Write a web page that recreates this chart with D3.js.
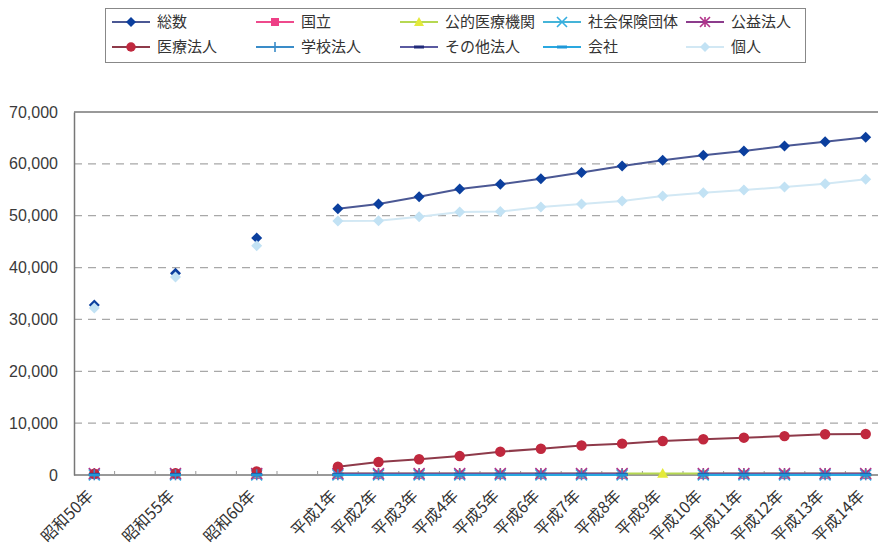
<!DOCTYPE html>
<html>
<head>
<meta charset="utf-8">
<script src="https://cdn.jsdelivr.net/npm/d3@7"></script>
<style>
  body { margin: 0; background: #fff; }
  svg { display: block; font-family: "Noto Sans CJK JP", "Noto Sans", sans-serif; }
</style>
</head>
<body>
<div id="chart"></div>
<script>
// categories (blank slots between the 昭和 years)
const labels = ['昭和50年', '', '昭和55年', '', '昭和60年', '',
  '平成1年', '平成2年', '平成3年', '平成4年', '平成5年', '平成6年', '平成7年',
  '平成8年', '平成9年', '平成10年', '平成11年', '平成12年', '平成13年', '平成14年'];

const yTicks = [0, 10000, 20000, 30000, 40000, 50000, 60000, 70000];

const N = null;
const sousu    = [32800, N, 38900, N, 45700, N, 51350, 52250, 53650, 55150, 56050, 57150, 58350, 59600, 60700, 61650, 62500, 63450, 64250, 65150];
const kojin    = [32200, N, 38200, N, 44200, N, 49000, 49050, 49800, 50700, 50800, 51700, 52250, 52850, 53800, 54450, 54950, 55550, 56150, 57050];
const iryo     = [250, N, 350, N, 700, N, 1600, 2500, 3050, 3650, 4500, 5050, 5700, 6050, 6550, 6900, 7200, 7500, 7850, 7900];
const kokuritsu = [60, N, 60, N, 60, N, 60, 60, 60, 60, 60, 60, 60, 60, N, 60, 60, 60, 60, 60];
const koteki   = [300, N, 300, N, 300, N, 300, 300, 300, 300, 300, 300, 300, 300, 300, 300, 300, 300, 300, 300];
const shaho    = [30, N, 30, N, 30, N, 30, 30, 30, 30, 30, 30, 30, 30, N, 30, 30, 30, 30, 30];
const koeki    = [280, N, 280, N, 280, N, 280, 280, 280, 280, 280, 280, 280, 280, N, 280, 280, 280, 280, 280];
const gakko    = [40, N, 40, N, 40, N, 40, 40, 40, 40, 40, 40, 40, 40, N, 40, 40, 40, 40, 40];
const sonota   = [120, N, 120, N, 120, N, 120, 120, 120, 120, 120, 120, 120, 120, N, 120, 120, 120, 120, 120];
const kaisha   = [10, N, 10, N, 10, N, 10, 10, 10, 10, 10, 10, 10, 10, N, 10, 10, 10, 10, 10];

const series = [
  { name: '総数', values: sousu, line: '#4b5894', fill: '#0b3f9e', marker: 'diamond' },
  { name: '国立', values: kokuritsu, line: '#ee4a8c', fill: '#ee3f86', marker: 'square' },
  { name: '公的医療機関', values: koteki, line: '#b6d852', fill: '#e4ea3a', marker: 'triangle' },
  { name: '社会保険団体', values: shaho, line: '#45b4d8', fill: '#36aee0', marker: 'x' },
  { name: '公益法人', values: koeki, line: '#8c3c8c', fill: '#b2338a', marker: 'star' },
  { name: '医療法人', values: iryo, line: '#8e3a4a', fill: '#c0283e', marker: 'circle' },
  { name: '学校法人', values: gakko, line: '#3a8cc8', fill: '#3a8cc8', marker: 'plus' },
  { name: 'その他法人', values: sonota, line: '#5a5aa0', fill: '#202a7a', marker: 'dash' },
  { name: '会社', values: kaisha, line: '#2aa8e0', fill: '#1f98d8', marker: 'dash' },
  { name: '個人', values: kojin, line: '#d2e8f4', fill: '#c2e2f4', marker: 'diamond' }
];

const width = 878, height = 549;
const svg = d3.select('#chart').append('svg')
  .attr('width', width)
  .attr('height', height);

const x = d3.scaleBand()
  .domain(d3.range(labels.length))
  .range([74, 74 + 40.6 * labels.length]);

const y = d3.scaleLinear()
  .domain([0, 70000])
  .range([475, 112]);

// grid
svg.append('g')
  .selectAll('line')
  .data(yTicks.filter(t => t > 0 && t < 70000))
  .join('line')
  .attr('x1', 74).attr('x2', width)
  .attr('y1', d => y(d)).attr('y2', d => y(d))
  .attr('stroke', '#a8a8a8')
  .attr('stroke-width', 1.2)
  .attr('stroke-dasharray', '8,6');

// top border
svg.append('line')
  .attr('x1', 74).attr('x2', width)
  .attr('y1', y(70000)).attr('y2', y(70000))
  .attr('stroke', '#777').attr('stroke-width', 1.5);

// y axis
const yAxis = d3.axisLeft(y)
  .tickValues(yTicks)
  .tickSize(0)
  .tickPadding(16)
  .tickFormat(d3.format(','));
const yg = svg.append('g')
  .attr('transform', 'translate(74,0)')
  .call(yAxis);
yg.select('.domain').attr('stroke', '#777').attr('stroke-width', 1.5);
yg.selectAll('text').attr('font-size', 16).attr('fill', '#3a3a3a');

// x axis
const xg = svg.append('g')
  .attr('transform', 'translate(0,475)');
xg.append('line')
  .attr('x1', 74).attr('x2', width)
  .attr('stroke', '#777').attr('stroke-width', 1.5);
xg.selectAll('.tk')
  .data(d3.range(1, labels.length))
  .join('line')
  .attr('class', 'tk')
  .attr('x1', d => x(d)).attr('x2', d => x(d))
  .attr('y1', 0).attr('y2', -4)
  .attr('stroke', '#999');
xg.selectAll('text')
  .data(labels.map((l, i) => ({ l, i })).filter(d => d.l))
  .join('text')
  .attr('transform', d => `translate(${x(d.i) + x.bandwidth() / 2 - 4},18) rotate(-45)`)
  .attr('text-anchor', 'end')
  .attr('dy', '0.35em')
  .attr('font-size', 16)
  .attr('fill', '#333')
  .text(d => d.l);

// markers
function drawMarker(g, type, fill, size) {
  const s = size;
  if (type === 'diamond') {
    g.append('path').attr('d', `M0,${-s}L${s},0L0,${s}L${-s},0Z`).attr('fill', fill);
  } else if (type === 'square') {
    g.append('rect').attr('x', -s * 0.8).attr('y', -s * 0.8).attr('width', s * 1.6).attr('height', s * 1.6).attr('fill', fill);
  } else if (type === 'triangle') {
    g.append('path').attr('d', `M0,${-s}L${s},${s * 0.8}L${-s},${s * 0.8}Z`).attr('fill', fill);
  } else if (type === 'circle') {
    g.append('circle').attr('r', s * 0.95).attr('fill', fill);
  } else if (type === 'x') {
    g.append('path').attr('d', `M${-s},${-s}L${s},${s}M${-s},${s}L${s},${-s}`).attr('stroke', fill).attr('stroke-width', 1.6);
  } else if (type === 'star') {
    g.append('path').attr('d', `M${-s},${-s}L${s},${s}M${-s},${s}L${s},${-s}M0,${-s}L0,${s}`).attr('stroke', fill).attr('stroke-width', 1.6);
  } else if (type === 'plus') {
    g.append('path').attr('d', `M0,${-s}L0,${s}`).attr('stroke', fill).attr('stroke-width', 1.6);
  } else if (type === 'dash') {
    g.append('path').attr('d', `M${-s},0L${s},0`).attr('stroke', fill).attr('stroke-width', 3);
  }
}

const line = d3.line()
  .defined(d => d.v != null)
  .x(d => x(d.i) + x.bandwidth() / 2)
  .y(d => y(d.v));

series.forEach(s => {
  const pts = s.values.map((v, i) => ({ v, i }));
  const g = svg.append('g');
  g.append('path')
    .datum(pts)
    .attr('d', line)
    .attr('fill', 'none')
    .attr('stroke', s.line)
    .attr('stroke-width', 2);
  pts.filter(d => d.v != null).forEach(d => {
    const m = g.append('g')
      .attr('transform', `translate(${x(d.i) + x.bandwidth() / 2},${y(d.v)})`);
    drawMarker(m, s.marker, s.fill, 5.5);
  });
});

// legend
const lg = svg.append('g');
lg.append('rect')
  .attr('x', 105.5).attr('y', 8.5)
  .attr('width', 700).attr('height', 54)
  .attr('fill', '#fff')
  .attr('stroke', '#888').attr('stroke-width', 1);
const colX = [112, 256, 400, 543, 686];
const rowY = [22, 47];
series.forEach((s, k) => {
  const col = k % 5, row = Math.floor(k / 5);
  const g = lg.append('g').attr('transform', `translate(${colX[col]},${rowY[row]})`);
  g.append('line').attr('x1', 0).attr('x2', 38)
    .attr('stroke', s.line).attr('stroke-width', 2);
  const m = g.append('g').attr('transform', 'translate(19,0)');
  drawMarker(m, s.marker, s.fill, 5);
  g.append('text')
    .attr('x', 45).attr('dy', '0.35em')
    .attr('font-size', 15)
    .attr('fill', '#333')
    .text(s.name);
});
</script>
</body>
</html>
